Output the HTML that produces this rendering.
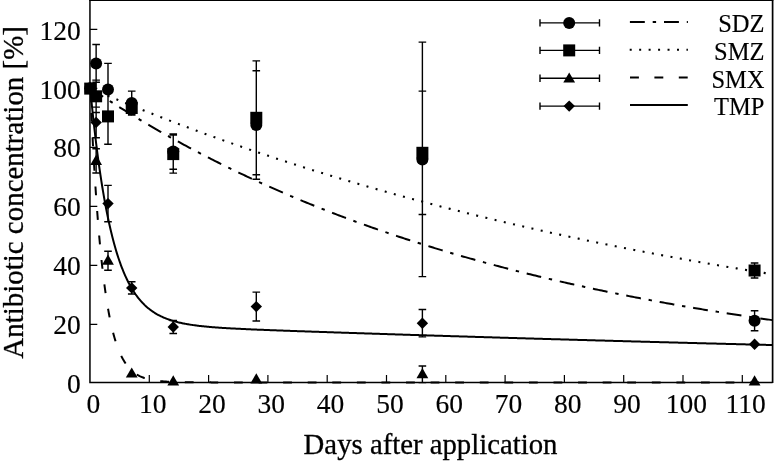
<!DOCTYPE html>
<html><head><meta charset="utf-8"><title>Antibiotic concentration</title>
<style>html,body{margin:0;padding:0;background:#fff}body{width:774px;height:462px;overflow:hidden}svg{display:block}text{font-family:"Liberation Serif","Times New Roman",serif;fill:#000;stroke:#000;stroke-width:0.15px}.ax{stroke-width:0.3px}</style>
</head><body>
<svg width="774" height="462" viewBox="0 0 774 462">
<rect width="774" height="462" fill="#fff"/>
<defs><clipPath id="pc"><rect x="90" y="0" width="682.5" height="384"/></clipPath></defs>
<g clip-path="url(#pc)" fill="none" stroke="#000" stroke-width="2">
<path d="M90.2,88.23 L91.91,89.37 L93.61,90.5 L95.32,91.64 L97.02,92.76 L98.73,93.88 L100.43,95 L102.14,96.11 L103.84,97.22 L105.55,98.33 L107.25,99.43 L108.96,100.52 L110.67,101.62 L112.37,102.7 L114.08,103.79 L115.78,104.87 L117.49,105.94 L119.19,107.01 L120.9,108.08 L122.6,109.14 L124.31,110.2 L126.01,111.26 L127.72,112.31 L129.43,113.35 L131.13,114.39 L132.84,115.43 L134.54,116.47 L136.25,117.5 L137.95,118.52 L139.66,119.55 L141.36,120.56 L143.07,121.58 L144.77,122.59 L146.48,123.59 L148.19,124.6 L149.89,125.6 L151.6,126.59 L153.3,127.58 L155.01,128.57 L156.71,129.55 L158.42,130.53 L160.12,131.51 L161.83,132.48 L163.53,133.45 L165.24,134.41 L166.95,135.37 L168.65,136.33 L170.36,137.28 L172.06,138.23 L173.77,139.18 L175.47,140.12 L177.18,141.06 L178.88,141.99 L180.59,142.92 L182.29,143.85 L184,144.78 L185.71,145.7 L187.41,146.61 L189.12,147.53 L190.82,148.44 L192.53,149.34 L194.23,150.25 L195.94,151.15 L197.64,152.04 L199.35,152.93 L201.05,153.82 L202.76,154.71 L204.47,155.59 L206.17,156.47 L207.88,157.34 L209.58,158.22 L211.29,159.08 L212.99,159.95 L214.7,160.81 L216.4,161.67 L218.11,162.52 L219.81,163.38 L221.52,164.22 L223.23,165.07 L224.93,165.91 L226.64,166.75 L228.34,167.59 L230.05,168.42 L231.75,169.25 L233.46,170.07 L235.16,170.89 L236.87,171.71 L238.57,172.53 L240.28,173.34 L241.99,174.15 L243.69,174.96 L245.4,175.76 L247.1,176.56 L248.81,177.36 L250.51,178.15 L252.22,178.95 L253.92,179.73 L255.63,180.52 L257.33,181.3 L259.04,182.08 L260.75,182.86 L262.45,183.63 L264.16,184.4 L265.86,185.17 L267.57,185.93 L269.27,186.69 L270.98,187.45 L272.68,188.2 L274.39,188.96 L276.09,189.71 L277.8,190.45 L279.5,191.2 L281.21,191.94 L282.92,192.67 L284.62,193.41 L286.33,194.14 L288.03,194.87 L289.74,195.6 L291.44,196.32 L293.15,197.04 L294.85,197.76 L296.56,198.48 L298.26,199.19 L299.97,199.9 L301.68,200.6 L303.38,201.31 L305.09,202.01 L306.79,202.71 L308.5,203.41 L310.2,204.1 L311.91,204.79 L313.61,205.48 L315.32,206.16 L317.02,206.85 L318.73,207.53 L320.44,208.2 L322.14,208.88 L323.85,209.55 L325.55,210.22 L327.26,210.89 L328.96,211.55 L330.67,212.21 L332.37,212.87 L334.08,213.53 L335.78,214.18 L337.49,214.83 L339.2,215.48 L340.9,216.13 L342.61,216.77 L344.31,217.42 L346.02,218.05 L347.72,218.69 L349.43,219.33 L351.13,219.96 L352.84,220.59 L354.54,221.21 L356.25,221.84 L357.96,222.46 L359.66,223.08 L361.37,223.7 L363.07,224.31 L364.78,224.92 L366.48,225.53 L368.19,226.14 L369.89,226.75 L371.6,227.35 L373.3,227.95 L375.01,228.55 L376.72,229.14 L378.42,229.74 L380.13,230.33 L381.83,230.92 L383.54,231.51 L385.24,232.09 L386.95,232.67 L388.65,233.25 L390.36,233.83 L392.06,234.41 L393.77,234.98 L395.48,235.55 L397.18,236.12 L398.89,236.69 L400.59,237.25 L402.3,237.81 L404,238.37 L405.71,238.93 L407.41,239.49 L409.12,240.04 L410.82,240.59 L412.53,241.14 L414.24,241.69 L415.94,242.23 L417.65,242.78 L419.35,243.32 L421.06,243.85 L422.76,244.39 L424.47,244.93 L426.17,245.46 L427.88,245.99 L429.58,246.52 L431.29,247.04 L433,247.57 L434.7,248.09 L436.41,248.61 L438.11,249.13 L439.82,249.65 L441.52,250.16 L443.23,250.67 L444.93,251.18 L446.64,251.69 L448.34,252.2 L450.05,252.7 L451.76,253.2 L453.46,253.7 L455.17,254.2 L456.87,254.7 L458.58,255.19 L460.28,255.69 L461.99,256.18 L463.69,256.67 L465.4,257.15 L467.1,257.64 L468.81,258.12 L470.52,258.6 L472.22,259.08 L473.93,259.56 L475.63,260.04 L477.34,260.51 L479.04,260.98 L480.75,261.45 L482.45,261.92 L484.16,262.39 L485.86,262.85 L487.57,263.32 L489.28,263.78 L490.98,264.24 L492.69,264.69 L494.39,265.15 L496.1,265.6 L497.8,266.06 L499.51,266.51 L501.21,266.96 L502.92,267.4 L504.62,267.85 L506.33,268.29 L508.04,268.74 L509.74,269.18 L511.45,269.61 L513.15,270.05 L514.86,270.49 L516.56,270.92 L518.27,271.35 L519.97,271.78 L521.68,272.21 L523.38,272.64 L525.09,273.06 L526.8,273.49 L528.5,273.91 L530.21,274.33 L531.91,274.75 L533.62,275.16 L535.32,275.58 L537.03,275.99 L538.73,276.41 L540.44,276.82 L542.14,277.22 L543.85,277.63 L545.56,278.04 L547.26,278.44 L548.97,278.85 L550.67,279.25 L552.38,279.65 L554.08,280.04 L555.79,280.44 L557.49,280.84 L559.2,281.23 L560.9,281.62 L562.61,282.01 L564.32,282.4 L566.02,282.79 L567.73,283.17 L569.43,283.56 L571.14,283.94 L572.84,284.32 L574.55,284.7 L576.25,285.08 L577.96,285.46 L579.66,285.83 L581.37,286.21 L583.08,286.58 L584.78,286.95 L586.49,287.32 L588.19,287.69 L589.9,288.06 L591.6,288.42 L593.31,288.79 L595.01,289.15 L596.72,289.51 L598.42,289.87 L600.13,290.23 L601.84,290.58 L603.54,290.94 L605.25,291.29 L606.95,291.65 L608.66,292 L610.36,292.35 L612.07,292.7 L613.77,293.05 L615.48,293.39 L617.18,293.74 L618.89,294.08 L620.59,294.42 L622.3,294.76 L624.01,295.1 L625.71,295.44 L627.42,295.78 L629.12,296.11 L630.83,296.45 L632.53,296.78 L634.24,297.11 L635.94,297.44 L637.65,297.77 L639.35,298.1 L641.06,298.43 L642.77,298.75 L644.47,299.07 L646.18,299.4 L647.88,299.72 L649.59,300.04 L651.29,300.36 L653,300.68 L654.7,300.99 L656.41,301.31 L658.11,301.62 L659.82,301.94 L661.53,302.25 L663.23,302.56 L664.94,302.87 L666.64,303.17 L668.35,303.48 L670.05,303.79 L671.76,304.09 L673.46,304.4 L675.17,304.7 L676.87,305 L678.58,305.3 L680.29,305.6 L681.99,305.89 L683.7,306.19 L685.4,306.49 L687.11,306.78 L688.81,307.07 L690.52,307.36 L692.22,307.66 L693.93,307.94 L695.63,308.23 L697.34,308.52 L699.05,308.81 L700.75,309.09 L702.46,309.38 L704.16,309.66 L705.87,309.94 L707.57,310.22 L709.28,310.5 L710.98,310.78 L712.69,311.06 L714.39,311.33 L716.1,311.61 L717.81,311.88 L719.51,312.16 L721.22,312.43 L722.92,312.7 L724.63,312.97 L726.33,313.24 L728.04,313.51 L729.74,313.77 L731.45,314.04 L733.15,314.3 L734.86,314.57 L736.57,314.83 L738.27,315.09 L739.98,315.35 L741.68,315.61 L743.39,315.87 L745.09,316.13 L746.8,316.39 L748.5,316.64 L750.21,316.9 L751.91,317.15 L753.62,317.4 L755.33,317.65 L757.03,317.9 L758.74,318.15 L760.44,318.4 L762.15,318.65 L763.85,318.9 L765.56,319.14 L767.26,319.39 L768.97,319.63 L770.67,319.88 L772.38,320.12" stroke-dasharray="14.9 7.85 3.4 7.85" stroke-dashoffset="-0.6"/>
<path d="M90.2,88.23 L91.91,88.96 L93.61,89.7 L95.32,90.43 L97.02,91.16 L98.73,91.89 L100.43,92.61 L102.14,93.34 L103.84,94.06 L105.55,94.78 L107.25,95.5 L108.96,96.21 L110.67,96.93 L112.37,97.64 L114.08,98.35 L115.78,99.06 L117.49,99.77 L119.19,100.48 L120.9,101.18 L122.6,101.88 L124.31,102.58 L126.01,103.28 L127.72,103.98 L129.43,104.68 L131.13,105.37 L132.84,106.06 L134.54,106.75 L136.25,107.44 L137.95,108.13 L139.66,108.81 L141.36,109.5 L143.07,110.18 L144.77,110.86 L146.48,111.54 L148.19,112.21 L149.89,112.89 L151.6,113.56 L153.3,114.23 L155.01,114.9 L156.71,115.57 L158.42,116.24 L160.12,116.9 L161.83,117.57 L163.53,118.23 L165.24,118.89 L166.95,119.55 L168.65,120.2 L170.36,120.86 L172.06,121.51 L173.77,122.16 L175.47,122.81 L177.18,123.46 L178.88,124.11 L180.59,124.75 L182.29,125.4 L184,126.04 L185.71,126.68 L187.41,127.32 L189.12,127.95 L190.82,128.59 L192.53,129.22 L194.23,129.86 L195.94,130.49 L197.64,131.12 L199.35,131.74 L201.05,132.37 L202.76,133 L204.47,133.62 L206.17,134.24 L207.88,134.86 L209.58,135.48 L211.29,136.1 L212.99,136.71 L214.7,137.32 L216.4,137.94 L218.11,138.55 L219.81,139.16 L221.52,139.76 L223.23,140.37 L224.93,140.97 L226.64,141.58 L228.34,142.18 L230.05,142.78 L231.75,143.38 L233.46,143.98 L235.16,144.57 L236.87,145.17 L238.57,145.76 L240.28,146.35 L241.99,146.94 L243.69,147.53 L245.4,148.11 L247.1,148.7 L248.81,149.28 L250.51,149.87 L252.22,150.45 L253.92,151.03 L255.63,151.6 L257.33,152.18 L259.04,152.76 L260.75,153.33 L262.45,153.9 L264.16,154.47 L265.86,155.04 L267.57,155.61 L269.27,156.18 L270.98,156.74 L272.68,157.3 L274.39,157.87 L276.09,158.43 L277.8,158.99 L279.5,159.55 L281.21,160.1 L282.92,160.66 L284.62,161.21 L286.33,161.76 L288.03,162.32 L289.74,162.87 L291.44,163.41 L293.15,163.96 L294.85,164.51 L296.56,165.05 L298.26,165.59 L299.97,166.14 L301.68,166.68 L303.38,167.21 L305.09,167.75 L306.79,168.29 L308.5,168.82 L310.2,169.36 L311.91,169.89 L313.61,170.42 L315.32,170.95 L317.02,171.48 L318.73,172 L320.44,172.53 L322.14,173.05 L323.85,173.58 L325.55,174.1 L327.26,174.62 L328.96,175.14 L330.67,175.66 L332.37,176.17 L334.08,176.69 L335.78,177.2 L337.49,177.71 L339.2,178.23 L340.9,178.74 L342.61,179.24 L344.31,179.75 L346.02,180.26 L347.72,180.76 L349.43,181.27 L351.13,181.77 L352.84,182.27 L354.54,182.77 L356.25,183.27 L357.96,183.77 L359.66,184.26 L361.37,184.76 L363.07,185.25 L364.78,185.74 L366.48,186.24 L368.19,186.73 L369.89,187.21 L371.6,187.7 L373.3,188.19 L375.01,188.67 L376.72,189.16 L378.42,189.64 L380.13,190.12 L381.83,190.6 L383.54,191.08 L385.24,191.56 L386.95,192.04 L388.65,192.51 L390.36,192.99 L392.06,193.46 L393.77,193.93 L395.48,194.4 L397.18,194.87 L398.89,195.34 L400.59,195.81 L402.3,196.27 L404,196.74 L405.71,197.2 L407.41,197.66 L409.12,198.13 L410.82,198.59 L412.53,199.05 L414.24,199.5 L415.94,199.96 L417.65,200.42 L419.35,200.87 L421.06,201.32 L422.76,201.78 L424.47,202.23 L426.17,202.68 L427.88,203.13 L429.58,203.57 L431.29,204.02 L433,204.47 L434.7,204.91 L436.41,205.35 L438.11,205.8 L439.82,206.24 L441.52,206.68 L443.23,207.12 L444.93,207.56 L446.64,207.99 L448.34,208.43 L450.05,208.86 L451.76,209.3 L453.46,209.73 L455.17,210.16 L456.87,210.59 L458.58,211.02 L460.28,211.45 L461.99,211.87 L463.69,212.3 L465.4,212.73 L467.1,213.15 L468.81,213.57 L470.52,213.99 L472.22,214.41 L473.93,214.83 L475.63,215.25 L477.34,215.67 L479.04,216.09 L480.75,216.5 L482.45,216.92 L484.16,217.33 L485.86,217.74 L487.57,218.15 L489.28,218.56 L490.98,218.97 L492.69,219.38 L494.39,219.79 L496.1,220.2 L497.8,220.6 L499.51,221 L501.21,221.41 L502.92,221.81 L504.62,222.21 L506.33,222.61 L508.04,223.01 L509.74,223.41 L511.45,223.81 L513.15,224.2 L514.86,224.6 L516.56,224.99 L518.27,225.38 L519.97,225.78 L521.68,226.17 L523.38,226.56 L525.09,226.95 L526.8,227.34 L528.5,227.72 L530.21,228.11 L531.91,228.5 L533.62,228.88 L535.32,229.26 L537.03,229.65 L538.73,230.03 L540.44,230.41 L542.14,230.79 L543.85,231.17 L545.56,231.54 L547.26,231.92 L548.97,232.3 L550.67,232.67 L552.38,233.05 L554.08,233.42 L555.79,233.79 L557.49,234.16 L559.2,234.53 L560.9,234.9 L562.61,235.27 L564.32,235.64 L566.02,236 L567.73,236.37 L569.43,236.74 L571.14,237.1 L572.84,237.46 L574.55,237.82 L576.25,238.19 L577.96,238.55 L579.66,238.91 L581.37,239.26 L583.08,239.62 L584.78,239.98 L586.49,240.33 L588.19,240.69 L589.9,241.04 L591.6,241.4 L593.31,241.75 L595.01,242.1 L596.72,242.45 L598.42,242.8 L600.13,243.15 L601.84,243.5 L603.54,243.84 L605.25,244.19 L606.95,244.53 L608.66,244.88 L610.36,245.22 L612.07,245.57 L613.77,245.91 L615.48,246.25 L617.18,246.59 L618.89,246.93 L620.59,247.27 L622.3,247.6 L624.01,247.94 L625.71,248.28 L627.42,248.61 L629.12,248.95 L630.83,249.28 L632.53,249.61 L634.24,249.94 L635.94,250.27 L637.65,250.6 L639.35,250.93 L641.06,251.26 L642.77,251.59 L644.47,251.92 L646.18,252.24 L647.88,252.57 L649.59,252.89 L651.29,253.21 L653,253.54 L654.7,253.86 L656.41,254.18 L658.11,254.5 L659.82,254.82 L661.53,255.14 L663.23,255.46 L664.94,255.77 L666.64,256.09 L668.35,256.41 L670.05,256.72 L671.76,257.03 L673.46,257.35 L675.17,257.66 L676.87,257.97 L678.58,258.28 L680.29,258.59 L681.99,258.9 L683.7,259.21 L685.4,259.52 L687.11,259.83 L688.81,260.13 L690.52,260.44 L692.22,260.74 L693.93,261.05 L695.63,261.35 L697.34,261.65 L699.05,261.95 L700.75,262.25 L702.46,262.55 L704.16,262.85 L705.87,263.15 L707.57,263.45 L709.28,263.75 L710.98,264.04 L712.69,264.34 L714.39,264.63 L716.1,264.93 L717.81,265.22 L719.51,265.51 L721.22,265.81 L722.92,266.1 L724.63,266.39 L726.33,266.68 L728.04,266.97 L729.74,267.26 L731.45,267.54 L733.15,267.83 L734.86,268.12 L736.57,268.4 L738.27,268.69 L739.98,268.97 L741.68,269.25 L743.39,269.54 L745.09,269.82 L746.8,270.1 L748.5,270.38 L750.21,270.66 L751.91,270.94 L753.62,271.22 L755.33,271.5 L757.03,271.77 L758.74,272.05 L760.44,272.32 L762.15,272.6 L763.85,272.87 L765.56,273.15 L767.26,273.42 L768.97,273.69 L770.67,273.96 L772.38,274.24" stroke-width="2.1" stroke-dasharray="2 7.46" stroke-dashoffset="-0.1"/>
<path d="M90.2,88.23 L90.77,100.92 L91.34,113.06 L91.91,124.67 L92.47,135.79 L93.04,146.42 L93.61,156.6 L94.18,166.34 L94.75,175.65 L95.32,184.57 L95.88,193.1 L96.45,201.27 L97.02,209.08 L97.59,216.55 L98.16,223.7 L98.73,230.55 L99.3,237.1 L99.86,243.36 L100.43,249.36 L101,255.1 L101.57,260.59 L102.14,265.84 L102.71,270.87 L103.28,275.68 L103.84,280.28 L104.41,284.68 L104.98,288.9 L105.55,292.93 L106.12,296.79 L106.69,300.48 L107.25,304.01 L107.82,307.39 L108.39,310.63 L108.96,313.72 L109.53,316.69 L110.1,319.52 L110.67,322.23 L111.23,324.83 L111.8,327.31 L112.37,329.68 L112.94,331.96 L113.51,334.13 L114.08,336.21 L114.64,338.21 L115.21,340.11 L115.78,341.94 L116.35,343.68 L116.92,345.35 L117.49,346.95 L118.06,348.48 L118.62,349.94 L119.19,351.34 L119.76,352.68 L120.33,353.96 L120.9,355.19 L121.47,356.36 L122.04,357.48 L122.6,358.56 L123.17,359.59 L123.74,360.57 L124.31,361.51 L124.88,362.41 L125.45,363.28 L126.01,364.1 L126.58,364.89 L127.15,365.64 L127.72,366.37 L128.29,367.06 L128.86,367.72 L129.43,368.35 L129.99,368.96 L130.56,369.54 L131.13,370.09 L131.7,370.62 L132.27,371.13 L132.84,371.62 L133.4,372.08 L133.97,372.53 L134.54,372.95 L135.11,373.36 L135.68,373.75 L136.25,374.12 L136.82,374.48 L137.38,374.82 L137.95,375.15 L138.52,375.46 L139.09,375.76 L139.66,376.05 L140.23,376.32 L140.8,376.58 L141.36,376.83 L141.93,377.07 L142.5,377.3 L143.07,377.52 L143.64,377.73 L144.21,377.94 L144.77,378.13 L145.34,378.31 L145.91,378.49 L146.48,378.66 L147.05,378.82 L147.62,378.97 L148.19,379.12 L148.75,379.26 L149.32,379.4 L149.89,379.53 L150.46,379.65 L151.03,379.77 L151.6,379.88 L152.16,379.99 L152.73,380.1 L153.3,380.19 L153.87,380.29 L154.44,380.38 L155.01,380.47 L155.58,380.55 L156.14,380.63 L156.71,380.71 L157.28,380.78 L157.85,380.85 L158.42,380.92 L158.99,380.98 L159.55,381.04 L160.12,381.1 L160.69,381.16 L161.26,381.21 L161.83,381.26 L162.4,381.31 L162.97,381.36 L163.53,381.4 L164.1,381.45 L164.67,381.49 L165.24,381.53 L165.81,381.56 L166.38,381.6 L166.95,381.63 L167.51,381.67 L168.08,381.7 L168.65,381.73 L169.22,381.76 L169.79,381.79 L170.36,381.81 L170.92,381.84 L171.49,381.86 L172.06,381.89 L172.63,381.91 L173.2,381.93 L173.77,381.95 L174.34,381.97 L174.9,381.99 L175.47,382 L176.04,382.02 L176.61,382.04 L177.18,382.05 L177.75,382.07 L178.31,382.08 L178.88,382.1 L179.45,382.11 L180.02,382.12 L180.59,382.13 L181.16,382.15 L181.73,382.16 L182.29,382.17 L182.86,382.18 L183.43,382.19 L184,382.2 L184.57,382.2 L185.14,382.21 L185.71,382.22 L186.27,382.23 L186.84,382.24 L187.41,382.24 L187.98,382.25 L188.55,382.26 L189.12,382.26 L189.68,382.27 L190.25,382.27 L190.82,382.28 L191.39,382.28 L191.96,382.29 L192.53,382.29 L193.1,382.3 L193.66,382.3 L194.23,382.31 L194.8,382.31 L195.37,382.32 L195.94,382.32 L196.51,382.32 L197.07,382.33 L197.64,382.33 L198.21,382.33 L198.78,382.34 L199.35,382.34 L199.92,382.34 L200.49,382.34 L201.05,382.35 L201.62,382.35 L202.19,382.35 L202.76,382.35 L203.33,382.35 L203.9,382.36 L204.47,382.36 L205.03,382.36 L205.6,382.36 L206.17,382.36 L206.74,382.37 L207.31,382.37 L207.88,382.37 L208.44,382.37 L209.01,382.37 L209.58,382.37 L210.15,382.37 L210.72,382.37 L211.29,382.38 L211.86,382.38 L212.42,382.38 L212.99,382.38 L213.56,382.38 L214.13,382.38 L214.7,382.38 L215.27,382.38 L215.83,382.38 L216.4,382.38 L216.97,382.38 L217.54,382.38 L218.11,382.39 L218.68,382.39 L219.25,382.39 L219.81,382.39 L220.38,382.39 L220.95,382.39 L221.52,382.39 L222.09,382.39 L222.66,382.39 L223.23,382.39 L223.79,382.39 L224.36,382.39 L224.93,382.39 L225.5,382.39 L226.07,382.39 L226.64,382.39 L227.2,382.39 L227.77,382.39 L228.34,382.39 L228.91,382.39 L229.48,382.39 L230.05,382.39 L230.62,382.39 L231.18,382.39 L231.75,382.39 L232.32,382.4 L232.89,382.4 L233.46,382.4 L234.03,382.4 L234.59,382.4 L235.16,382.4 L235.73,382.4 L236.3,382.4 L236.87,382.4 L237.44,382.4 L238.01,382.4 L238.57,382.4 L239.14,382.4 L239.71,382.4 L240.28,382.4 L240.85,382.4 L241.42,382.4 L241.99,382.4 L242.55,382.4 L243.12,382.4 L243.69,382.4 L244.26,382.4 L244.83,382.4 L245.4,382.4 L245.96,382.4 L246.53,382.4 L247.1,382.4 L247.67,382.4 L248.24,382.4 L248.81,382.4 L249.38,382.4 L249.94,382.4 L250.51,382.4 L251.08,382.4 L251.65,382.4 L252.22,382.4 L252.79,382.4 L253.35,382.4 L253.92,382.4 L254.49,382.4 L255.06,382.4 L255.63,382.4 L256.2,382.4 L256.77,382.4 L257.33,382.4 L257.9,382.4 L258.47,382.4 L259.04,382.4 L259.61,382.4 L260.18,382.4 L260.75,382.4 L261.31,382.4 L261.88,382.4 L262.45,382.4 L263.02,382.4 L263.59,382.4 L264.16,382.4 L264.72,382.4 L265.29,382.4 L265.86,382.4 L266.43,382.4 L267,382.4 L267.57,382.4 L268.14,382.4 L268.7,382.4 L269.27,382.4 L269.84,382.4 L270.41,382.4 L270.98,382.4 L271.55,382.4 L272.11,382.4 L272.68,382.4 L273.25,382.4 L273.82,382.4 L274.39,382.4 L274.96,382.4 L275.53,382.4 L276.09,382.4 L276.66,382.4 L277.23,382.4 L277.8,382.4 L278.37,382.4 L278.94,382.4 L279.5,382.4 L280.07,382.4 L280.64,382.4 L281.21,382.4 L281.78,382.4 L282.35,382.4 L282.92,382.4 L283.48,382.4 L284.05,382.4 L284.62,382.4 L285.19,382.4 L285.76,382.4 L286.33,382.4 L286.9,382.4 L287.46,382.4 L288.03,382.4 L288.6,382.4 L289.17,382.4 L289.74,382.4 L290.31,382.4 L290.87,382.4 L291.44,382.4 L292.01,382.4 L292.58,382.4 L293.15,382.4 L293.72,382.4 L294.29,382.4 L294.85,382.4 L295.42,382.4 L295.99,382.4 L296.56,382.4 L297.13,382.4 L297.7,382.4 L298.26,382.4 L298.83,382.4 L299.4,382.4 L299.97,382.4 L300.54,382.4 L301.11,382.4 L301.68,382.4 L302.24,382.4 L302.81,382.4 L303.38,382.4 L303.95,382.4 L304.52,382.4 L305.09,382.4 L305.66,382.4 L306.22,382.4 L306.79,382.4 L307.36,382.4 L307.93,382.4 L308.5,382.4 L309.07,382.4 L309.63,382.4 L310.2,382.4 L310.77,382.4 L311.34,382.4 L311.91,382.4 L312.48,382.4 L313.05,382.4 L313.61,382.4 L314.18,382.4 L314.75,382.4 L315.32,382.4 L315.89,382.4 L316.46,382.4 L317.02,382.4 L317.59,382.4 L318.16,382.4 L318.73,382.4 L319.3,382.4 L319.87,382.4 L320.44,382.4 L321,382.4 L321.57,382.4 L322.14,382.4 L322.71,382.4 L323.28,382.4 L323.85,382.4 L324.42,382.4 L324.98,382.4 L325.55,382.4 L326.12,382.4 L326.69,382.4 L327.26,382.4 L327.83,382.4 L328.39,382.4 L328.96,382.4 L329.53,382.4 L330.1,382.4 L330.67,382.4 L331.24,382.4 L331.81,382.4 L332.37,382.4 L332.94,382.4 L333.51,382.4 L334.08,382.4 L334.65,382.4 L335.22,382.4 L335.78,382.4 L336.35,382.4 L336.92,382.4 L337.49,382.4 L338.06,382.4 L338.63,382.4 L339.2,382.4 L339.76,382.4 L340.33,382.4 L340.9,382.4 L341.47,382.4 L342.04,382.4 L342.61,382.4 L343.18,382.4 L343.74,382.4 L344.31,382.4 L344.88,382.4 L345.45,382.4 L346.02,382.4 L346.59,382.4 L347.15,382.4 L347.72,382.4 L348.29,382.4 L348.86,382.4 L349.43,382.4 L350,382.4 L350.57,382.4 L351.13,382.4 L351.7,382.4 L352.27,382.4 L352.84,382.4 L353.41,382.4 L353.98,382.4 L354.54,382.4 L355.11,382.4 L355.68,382.4 L356.25,382.4 L356.82,382.4 L357.39,382.4 L357.96,382.4 L358.52,382.4 L359.09,382.4 L359.66,382.4 L360.23,382.4 L360.8,382.4 L361.37,382.4 L361.94,382.4 L362.5,382.4 L363.07,382.4 L363.64,382.4 L364.21,382.4 L364.78,382.4 L365.35,382.4 L365.91,382.4 L366.48,382.4 L367.05,382.4 L367.62,382.4 L368.19,382.4 L368.76,382.4 L369.33,382.4 L369.89,382.4 L370.46,382.4 L371.03,382.4 L371.6,382.4 L372.17,382.4 L372.74,382.4 L373.3,382.4 L373.87,382.4 L374.44,382.4 L375.01,382.4 L375.58,382.4 L376.15,382.4 L376.72,382.4 L377.28,382.4 L377.85,382.4 L378.42,382.4 L378.99,382.4 L379.56,382.4 L380.13,382.4 L380.69,382.4 L381.26,382.4 L381.83,382.4 L382.4,382.4 L382.97,382.4 L383.54,382.4 L384.11,382.4 L384.67,382.4 L385.24,382.4 L385.81,382.4 L386.38,382.4 L386.95,382.4 L387.52,382.4 L388.09,382.4 L388.65,382.4 L389.22,382.4 L389.79,382.4 L390.36,382.4 L390.93,382.4 L391.5,382.4 L392.06,382.4 L392.63,382.4 L393.2,382.4 L393.77,382.4 L394.34,382.4 L394.91,382.4 L395.48,382.4 L396.04,382.4 L396.61,382.4 L397.18,382.4 L397.75,382.4 L398.32,382.4 L398.89,382.4 L399.45,382.4 L400.02,382.4 L400.59,382.4 L401.16,382.4 L401.73,382.4 L402.3,382.4 L402.87,382.4 L403.43,382.4 L404,382.4 L404.57,382.4 L405.14,382.4 L405.71,382.4 L406.28,382.4 L406.85,382.4 L407.41,382.4 L407.98,382.4 L408.55,382.4 L409.12,382.4 L409.69,382.4 L410.26,382.4 L410.82,382.4 L411.39,382.4 L411.96,382.4 L412.53,382.4 L413.1,382.4 L413.67,382.4 L414.24,382.4 L414.8,382.4 L415.37,382.4 L415.94,382.4 L416.51,382.4 L417.08,382.4 L417.65,382.4 L418.21,382.4 L418.78,382.4 L419.35,382.4 L419.92,382.4 L420.49,382.4 L421.06,382.4 L421.63,382.4 L422.19,382.4 L422.76,382.4 L423.33,382.4 L423.9,382.4 L424.47,382.4 L425.04,382.4 L425.61,382.4 L426.17,382.4 L426.74,382.4 L427.31,382.4 L427.88,382.4 L428.45,382.4 L429.02,382.4 L429.58,382.4 L430.15,382.4 L430.72,382.4 L431.29,382.4 L431.86,382.4 L432.43,382.4 L433,382.4 L433.56,382.4 L434.13,382.4 L434.7,382.4 L435.27,382.4 L435.84,382.4 L436.41,382.4 L436.97,382.4 L437.54,382.4 L438.11,382.4 L438.68,382.4 L439.25,382.4 L439.82,382.4 L440.39,382.4 L440.95,382.4 L441.52,382.4 L442.09,382.4 L442.66,382.4 L443.23,382.4 L443.8,382.4 L444.37,382.4 L444.93,382.4 L445.5,382.4 L446.07,382.4 L446.64,382.4 L447.21,382.4 L447.78,382.4 L448.34,382.4 L448.91,382.4 L449.48,382.4 L450.05,382.4 L450.62,382.4 L451.19,382.4 L451.76,382.4 L452.32,382.4 L452.89,382.4 L453.46,382.4 L454.03,382.4 L454.6,382.4 L455.17,382.4 L455.73,382.4 L456.3,382.4 L456.87,382.4 L457.44,382.4 L458.01,382.4 L458.58,382.4 L459.15,382.4 L459.71,382.4 L460.28,382.4 L460.85,382.4 L461.42,382.4 L461.99,382.4 L462.56,382.4 L463.13,382.4 L463.69,382.4 L464.26,382.4 L464.83,382.4 L465.4,382.4 L465.97,382.4 L466.54,382.4 L467.1,382.4 L467.67,382.4 L468.24,382.4 L468.81,382.4 L469.38,382.4 L469.95,382.4 L470.52,382.4 L471.08,382.4 L471.65,382.4 L472.22,382.4 L472.79,382.4 L473.36,382.4 L473.93,382.4 L474.49,382.4 L475.06,382.4 L475.63,382.4 L476.2,382.4 L476.77,382.4 L477.34,382.4 L477.91,382.4 L478.47,382.4 L479.04,382.4 L479.61,382.4 L480.18,382.4 L480.75,382.4 L481.32,382.4 L481.89,382.4 L482.45,382.4 L483.02,382.4 L483.59,382.4 L484.16,382.4 L484.73,382.4 L485.3,382.4 L485.86,382.4 L486.43,382.4 L487,382.4 L487.57,382.4 L488.14,382.4 L488.71,382.4 L489.28,382.4 L489.84,382.4 L490.41,382.4 L490.98,382.4 L491.55,382.4 L492.12,382.4 L492.69,382.4 L493.25,382.4 L493.82,382.4 L494.39,382.4 L494.96,382.4 L495.53,382.4 L496.1,382.4 L496.67,382.4 L497.23,382.4 L497.8,382.4 L498.37,382.4 L498.94,382.4 L499.51,382.4 L500.08,382.4 L500.64,382.4 L501.21,382.4 L501.78,382.4 L502.35,382.4 L502.92,382.4 L503.49,382.4 L504.06,382.4 L504.62,382.4 L505.19,382.4 L505.76,382.4 L506.33,382.4 L506.9,382.4 L507.47,382.4 L508.04,382.4 L508.6,382.4 L509.17,382.4 L509.74,382.4 L510.31,382.4 L510.88,382.4 L511.45,382.4 L512.01,382.4 L512.58,382.4 L513.15,382.4 L513.72,382.4 L514.29,382.4 L514.86,382.4 L515.43,382.4 L515.99,382.4 L516.56,382.4 L517.13,382.4 L517.7,382.4 L518.27,382.4 L518.84,382.4 L519.4,382.4 L519.97,382.4 L520.54,382.4 L521.11,382.4 L521.68,382.4 L522.25,382.4 L522.82,382.4 L523.38,382.4 L523.95,382.4 L524.52,382.4 L525.09,382.4 L525.66,382.4 L526.23,382.4 L526.8,382.4 L527.36,382.4 L527.93,382.4 L528.5,382.4 L529.07,382.4 L529.64,382.4 L530.21,382.4 L530.77,382.4 L531.34,382.4 L531.91,382.4 L532.48,382.4 L533.05,382.4 L533.62,382.4 L534.19,382.4 L534.75,382.4 L535.32,382.4 L535.89,382.4 L536.46,382.4 L537.03,382.4 L537.6,382.4 L538.16,382.4 L538.73,382.4 L539.3,382.4 L539.87,382.4 L540.44,382.4 L541.01,382.4 L541.58,382.4 L542.14,382.4 L542.71,382.4 L543.28,382.4 L543.85,382.4 L544.42,382.4 L544.99,382.4 L545.56,382.4 L546.12,382.4 L546.69,382.4 L547.26,382.4 L547.83,382.4 L548.4,382.4 L548.97,382.4 L549.53,382.4 L550.1,382.4 L550.67,382.4 L551.24,382.4 L551.81,382.4 L552.38,382.4 L552.95,382.4 L553.51,382.4 L554.08,382.4 L554.65,382.4 L555.22,382.4 L555.79,382.4 L556.36,382.4 L556.92,382.4 L557.49,382.4 L558.06,382.4 L558.63,382.4 L559.2,382.4 L559.77,382.4 L560.34,382.4 L560.9,382.4 L561.47,382.4 L562.04,382.4 L562.61,382.4 L563.18,382.4 L563.75,382.4 L564.32,382.4 L564.88,382.4 L565.45,382.4 L566.02,382.4 L566.59,382.4 L567.16,382.4 L567.73,382.4 L568.29,382.4 L568.86,382.4 L569.43,382.4 L570,382.4 L570.57,382.4 L571.14,382.4 L571.71,382.4 L572.27,382.4 L572.84,382.4 L573.41,382.4 L573.98,382.4 L574.55,382.4 L575.12,382.4 L575.68,382.4 L576.25,382.4 L576.82,382.4 L577.39,382.4 L577.96,382.4 L578.53,382.4 L579.1,382.4 L579.66,382.4 L580.23,382.4 L580.8,382.4 L581.37,382.4 L581.94,382.4 L582.51,382.4 L583.08,382.4 L583.64,382.4 L584.21,382.4 L584.78,382.4 L585.35,382.4 L585.92,382.4 L586.49,382.4 L587.05,382.4 L587.62,382.4 L588.19,382.4 L588.76,382.4 L589.33,382.4 L589.9,382.4 L590.47,382.4 L591.03,382.4 L591.6,382.4 L592.17,382.4 L592.74,382.4 L593.31,382.4 L593.88,382.4 L594.44,382.4 L595.01,382.4 L595.58,382.4 L596.15,382.4 L596.72,382.4 L597.29,382.4 L597.86,382.4 L598.42,382.4 L598.99,382.4 L599.56,382.4 L600.13,382.4 L600.7,382.4 L601.27,382.4 L601.84,382.4 L602.4,382.4 L602.97,382.4 L603.54,382.4 L604.11,382.4 L604.68,382.4 L605.25,382.4 L605.81,382.4 L606.38,382.4 L606.95,382.4 L607.52,382.4 L608.09,382.4 L608.66,382.4 L609.23,382.4 L609.79,382.4 L610.36,382.4 L610.93,382.4 L611.5,382.4 L612.07,382.4 L612.64,382.4 L613.2,382.4 L613.77,382.4 L614.34,382.4 L614.91,382.4 L615.48,382.4 L616.05,382.4 L616.62,382.4 L617.18,382.4 L617.75,382.4 L618.32,382.4 L618.89,382.4 L619.46,382.4 L620.03,382.4 L620.59,382.4 L621.16,382.4 L621.73,382.4 L622.3,382.4 L622.87,382.4 L623.44,382.4 L624.01,382.4 L624.57,382.4 L625.14,382.4 L625.71,382.4 L626.28,382.4 L626.85,382.4 L627.42,382.4 L627.99,382.4 L628.55,382.4 L629.12,382.4 L629.69,382.4 L630.26,382.4 L630.83,382.4 L631.4,382.4 L631.96,382.4 L632.53,382.4 L633.1,382.4 L633.67,382.4 L634.24,382.4 L634.81,382.4 L635.38,382.4 L635.94,382.4 L636.51,382.4 L637.08,382.4 L637.65,382.4 L638.22,382.4 L638.79,382.4 L639.35,382.4 L639.92,382.4 L640.49,382.4 L641.06,382.4 L641.63,382.4 L642.2,382.4 L642.77,382.4 L643.33,382.4 L643.9,382.4 L644.47,382.4 L645.04,382.4 L645.61,382.4 L646.18,382.4 L646.75,382.4 L647.31,382.4 L647.88,382.4 L648.45,382.4 L649.02,382.4 L649.59,382.4 L650.16,382.4 L650.72,382.4 L651.29,382.4 L651.86,382.4 L652.43,382.4 L653,382.4 L653.57,382.4 L654.14,382.4 L654.7,382.4 L655.27,382.4 L655.84,382.4 L656.41,382.4 L656.98,382.4 L657.55,382.4 L658.11,382.4 L658.68,382.4 L659.25,382.4 L659.82,382.4 L660.39,382.4 L660.96,382.4 L661.53,382.4 L662.09,382.4 L662.66,382.4 L663.23,382.4 L663.8,382.4 L664.37,382.4 L664.94,382.4 L665.51,382.4 L666.07,382.4 L666.64,382.4 L667.21,382.4 L667.78,382.4 L668.35,382.4 L668.92,382.4 L669.48,382.4 L670.05,382.4 L670.62,382.4 L671.19,382.4 L671.76,382.4 L672.33,382.4 L672.9,382.4 L673.46,382.4 L674.03,382.4 L674.6,382.4 L675.17,382.4 L675.74,382.4 L676.31,382.4 L676.87,382.4 L677.44,382.4 L678.01,382.4 L678.58,382.4 L679.15,382.4 L679.72,382.4 L680.29,382.4 L680.85,382.4 L681.42,382.4 L681.99,382.4 L682.56,382.4 L683.13,382.4 L683.7,382.4 L684.27,382.4 L684.83,382.4 L685.4,382.4 L685.97,382.4 L686.54,382.4 L687.11,382.4 L687.68,382.4 L688.24,382.4 L688.81,382.4 L689.38,382.4 L689.95,382.4 L690.52,382.4 L691.09,382.4 L691.66,382.4 L692.22,382.4 L692.79,382.4 L693.36,382.4 L693.93,382.4 L694.5,382.4 L695.07,382.4 L695.63,382.4 L696.2,382.4 L696.77,382.4 L697.34,382.4 L697.91,382.4 L698.48,382.4 L699.05,382.4 L699.61,382.4 L700.18,382.4 L700.75,382.4 L701.32,382.4 L701.89,382.4 L702.46,382.4 L703.03,382.4 L703.59,382.4 L704.16,382.4 L704.73,382.4 L705.3,382.4 L705.87,382.4 L706.44,382.4 L707,382.4 L707.57,382.4 L708.14,382.4 L708.71,382.4 L709.28,382.4 L709.85,382.4 L710.42,382.4 L710.98,382.4 L711.55,382.4 L712.12,382.4 L712.69,382.4 L713.26,382.4 L713.83,382.4 L714.39,382.4 L714.96,382.4 L715.53,382.4 L716.1,382.4 L716.67,382.4 L717.24,382.4 L717.81,382.4 L718.37,382.4 L718.94,382.4 L719.51,382.4 L720.08,382.4 L720.65,382.4 L721.22,382.4 L721.78,382.4 L722.35,382.4 L722.92,382.4 L723.49,382.4 L724.06,382.4 L724.63,382.4 L725.2,382.4 L725.76,382.4 L726.33,382.4 L726.9,382.4 L727.47,382.4 L728.04,382.4 L728.61,382.4 L729.18,382.4 L729.74,382.4 L730.31,382.4 L730.88,382.4 L731.45,382.4 L732.02,382.4 L732.59,382.4 L733.15,382.4 L733.72,382.4 L734.29,382.4 L734.86,382.4 L735.43,382.4 L736,382.4 L736.57,382.4 L737.13,382.4 L737.7,382.4 L738.27,382.4 L738.84,382.4 L739.41,382.4 L739.98,382.4 L740.54,382.4 L741.11,382.4 L741.68,382.4 L742.25,382.4 L742.82,382.4 L743.39,382.4 L743.96,382.4 L744.52,382.4 L745.09,382.4 L745.66,382.4 L746.23,382.4 L746.8,382.4 L747.37,382.4 L747.94,382.4 L748.5,382.4 L749.07,382.4 L749.64,382.4 L750.21,382.4 L750.78,382.4 L751.35,382.4 L751.91,382.4 L752.48,382.4 L753.05,382.4 L753.62,382.4 L754.19,382.4 L754.76,382.4 L755.33,382.4 L755.89,382.4 L756.46,382.4 L757.03,382.4 L757.6,382.4 L758.17,382.4 L758.74,382.4 L759.3,382.4 L759.87,382.4 L760.44,382.4 L761.01,382.4 L761.58,382.4 L762.15,382.4 L762.72,382.4 L763.28,382.4 L763.85,382.4 L764.42,382.4 L764.99,382.4 L765.56,382.4 L766.13,382.4 L766.7,382.4 L767.26,382.4 L767.83,382.4 L768.4,382.4 L768.97,382.4 L769.54,382.4 L770.11,382.4 L770.67,382.4 L771.24,382.4 L771.81,382.4 L772.38,382.4" stroke-dasharray="8.8 15.78" stroke-dashoffset="-0.1"/>
<path d="M90.2,88.23 L91.05,97.06 L91.91,105.56 L92.76,113.74 L93.61,121.62 L94.46,129.21 L95.32,136.51 L96.17,143.55 L97.02,150.32 L97.87,156.84 L98.73,163.11 L99.58,169.16 L100.43,174.97 L101.29,180.58 L102.14,185.97 L102.99,191.16 L103.84,196.16 L104.7,200.98 L105.55,205.62 L106.4,210.08 L107.25,214.38 L108.11,218.52 L108.96,222.5 L109.81,226.34 L110.67,230.04 L111.52,233.59 L112.37,237.02 L113.22,240.32 L114.08,243.5 L114.93,246.56 L115.78,249.51 L116.63,252.34 L117.49,255.08 L118.34,257.71 L119.19,260.24 L120.05,262.69 L120.9,265.04 L121.75,267.3 L122.6,269.48 L123.46,271.59 L124.31,273.61 L125.16,275.56 L126.01,277.44 L126.87,279.24 L127.72,280.99 L128.57,282.67 L129.43,284.28 L130.28,285.84 L131.13,287.34 L131.98,288.79 L132.84,290.18 L133.69,291.52 L134.54,292.81 L135.39,294.06 L136.25,295.26 L137.1,296.42 L137.95,297.53 L138.81,298.61 L139.66,299.64 L140.51,300.64 L141.36,301.6 L142.22,302.53 L143.07,303.42 L143.92,304.28 L144.77,305.11 L145.63,305.91 L146.48,306.68 L147.33,307.43 L148.19,308.15 L149.04,308.84 L149.89,309.5 L150.74,310.15 L151.6,310.77 L152.45,311.37 L153.3,311.94 L154.15,312.5 L155.01,313.04 L155.86,313.56 L156.71,314.06 L157.57,314.54 L158.42,315.01 L159.27,315.46 L160.12,315.89 L160.98,316.31 L161.83,316.71 L162.68,317.1 L163.53,317.48 L164.39,317.84 L165.24,318.2 L166.09,318.54 L166.95,318.86 L167.8,319.18 L168.65,319.49 L169.5,319.78 L170.36,320.07 L171.21,320.35 L172.06,320.61 L172.91,320.87 L173.77,321.12 L174.62,321.36 L175.47,321.6 L176.33,321.82 L177.18,322.04 L178.03,322.26 L178.88,322.46 L179.74,322.66 L180.59,322.85 L181.44,323.04 L182.29,323.22 L183.15,323.4 L184,323.56 L184.85,323.73 L185.71,323.89 L186.56,324.04 L187.41,324.19 L188.26,324.34 L189.12,324.48 L189.97,324.62 L190.82,324.75 L191.67,324.88 L192.53,325.01 L193.38,325.13 L194.23,325.25 L195.09,325.36 L195.94,325.48 L196.79,325.58 L197.64,325.69 L198.5,325.79 L199.35,325.9 L200.2,325.99 L201.05,326.09 L201.91,326.18 L202.76,326.27 L203.61,326.36 L204.47,326.45 L205.32,326.53 L206.17,326.61 L207.02,326.7 L207.88,326.77 L208.73,326.85 L209.58,326.93 L210.43,327 L211.29,327.07 L212.14,327.14 L212.99,327.21 L213.85,327.28 L214.7,327.34 L215.55,327.41 L216.4,327.47 L217.26,327.53 L218.11,327.59 L218.96,327.65 L219.81,327.71 L220.67,327.77 L221.52,327.83 L222.37,327.88 L223.23,327.94 L224.08,327.99 L224.93,328.04 L225.78,328.09 L226.64,328.14 L227.49,328.2 L228.34,328.24 L229.19,328.29 L230.05,328.34 L230.9,328.39 L231.75,328.44 L232.61,328.48 L233.46,328.53 L234.31,328.57 L235.16,328.62 L236.02,328.66 L236.87,328.7 L237.72,328.75 L238.57,328.79 L239.43,328.83 L240.28,328.87 L241.13,328.91 L241.99,328.95 L242.84,328.99 L243.69,329.03 L244.54,329.07 L245.4,329.11 L246.25,329.15 L247.1,329.19 L247.95,329.23 L248.81,329.27 L249.66,329.3 L250.51,329.34 L251.37,329.38 L252.22,329.41 L253.07,329.45 L253.92,329.49 L254.78,329.52 L255.63,329.56 L256.48,329.59 L257.33,329.63 L258.19,329.66 L259.04,329.7 L259.89,329.73 L260.75,329.77 L261.6,329.8 L262.45,329.83 L263.3,329.87 L264.16,329.9 L265.01,329.94 L265.86,329.97 L266.71,330 L267.57,330.03 L268.42,330.07 L269.27,330.1 L270.12,330.13 L270.98,330.17 L271.83,330.2 L272.68,330.23 L273.54,330.26 L274.39,330.29 L275.24,330.33 L276.09,330.36 L276.95,330.39 L277.8,330.42 L278.65,330.45 L279.5,330.48 L280.36,330.52 L281.21,330.55 L282.06,330.58 L282.92,330.61 L283.77,330.64 L284.62,330.67 L285.47,330.7 L286.33,330.73 L287.18,330.76 L288.03,330.79 L288.88,330.82 L289.74,330.85 L290.59,330.88 L291.44,330.92 L292.3,330.95 L293.15,330.98 L294,331.01 L294.85,331.04 L295.71,331.07 L296.56,331.1 L297.41,331.13 L298.26,331.16 L299.12,331.19 L299.97,331.22 L300.82,331.25 L301.68,331.28 L302.53,331.31 L303.38,331.33 L304.23,331.36 L305.09,331.39 L305.94,331.42 L306.79,331.45 L307.64,331.48 L308.5,331.51 L309.35,331.54 L310.2,331.57 L311.06,331.6 L311.91,331.63 L312.76,331.66 L313.61,331.69 L314.47,331.72 L315.32,331.75 L316.17,331.78 L317.02,331.8 L317.88,331.83 L318.73,331.86 L319.58,331.89 L320.44,331.92 L321.29,331.95 L322.14,331.98 L322.99,332.01 L323.85,332.04 L324.7,332.06 L325.55,332.09 L326.4,332.12 L327.26,332.15 L328.11,332.18 L328.96,332.21 L329.82,332.24 L330.67,332.27 L331.52,332.29 L332.37,332.32 L333.23,332.35 L334.08,332.38 L334.93,332.41 L335.78,332.44 L336.64,332.47 L337.49,332.49 L338.34,332.52 L339.2,332.55 L340.05,332.58 L340.9,332.61 L341.75,332.64 L342.61,332.67 L343.46,332.69 L344.31,332.72 L345.16,332.75 L346.02,332.78 L346.87,332.81 L347.72,332.83 L348.58,332.86 L349.43,332.89 L350.28,332.92 L351.13,332.95 L351.99,332.98 L352.84,333 L353.69,333.03 L354.54,333.06 L355.4,333.09 L356.25,333.12 L357.1,333.14 L357.96,333.17 L358.81,333.2 L359.66,333.23 L360.51,333.26 L361.37,333.28 L362.22,333.31 L363.07,333.34 L363.92,333.37 L364.78,333.4 L365.63,333.42 L366.48,333.45 L367.34,333.48 L368.19,333.51 L369.04,333.53 L369.89,333.56 L370.75,333.59 L371.6,333.62 L372.45,333.65 L373.3,333.67 L374.16,333.7 L375.01,333.73 L375.86,333.76 L376.72,333.78 L377.57,333.81 L378.42,333.84 L379.27,333.87 L380.13,333.89 L380.98,333.92 L381.83,333.95 L382.68,333.98 L383.54,334 L384.39,334.03 L385.24,334.06 L386.1,334.09 L386.95,334.11 L387.8,334.14 L388.65,334.17 L389.51,334.2 L390.36,334.22 L391.21,334.25 L392.06,334.28 L392.92,334.31 L393.77,334.33 L394.62,334.36 L395.48,334.39 L396.33,334.42 L397.18,334.44 L398.03,334.47 L398.89,334.5 L399.74,334.52 L400.59,334.55 L401.44,334.58 L402.3,334.61 L403.15,334.63 L404,334.66 L404.86,334.69 L405.71,334.71 L406.56,334.74 L407.41,334.77 L408.27,334.8 L409.12,334.82 L409.97,334.85 L410.82,334.88 L411.68,334.9 L412.53,334.93 L413.38,334.96 L414.24,334.98 L415.09,335.01 L415.94,335.04 L416.79,335.06 L417.65,335.09 L418.5,335.12 L419.35,335.15 L420.2,335.17 L421.06,335.2 L421.91,335.23 L422.76,335.25 L423.62,335.28 L424.47,335.31 L425.32,335.33 L426.17,335.36 L427.03,335.39 L427.88,335.41 L428.73,335.44 L429.58,335.47 L430.44,335.49 L431.29,335.52 L432.14,335.55 L433,335.57 L433.85,335.6 L434.7,335.63 L435.55,335.65 L436.41,335.68 L437.26,335.71 L438.11,335.73 L438.96,335.76 L439.82,335.79 L440.67,335.81 L441.52,335.84 L442.38,335.86 L443.23,335.89 L444.08,335.92 L444.93,335.94 L445.79,335.97 L446.64,336 L447.49,336.02 L448.34,336.05 L449.2,336.08 L450.05,336.1 L450.9,336.13 L451.76,336.15 L452.61,336.18 L453.46,336.21 L454.31,336.23 L455.17,336.26 L456.02,336.29 L456.87,336.31 L457.72,336.34 L458.58,336.36 L459.43,336.39 L460.28,336.42 L461.14,336.44 L461.99,336.47 L462.84,336.49 L463.69,336.52 L464.55,336.55 L465.4,336.57 L466.25,336.6 L467.1,336.62 L467.96,336.65 L468.81,336.68 L469.66,336.7 L470.52,336.73 L471.37,336.75 L472.22,336.78 L473.07,336.81 L473.93,336.83 L474.78,336.86 L475.63,336.88 L476.48,336.91 L477.34,336.94 L478.19,336.96 L479.04,336.99 L479.9,337.01 L480.75,337.04 L481.6,337.06 L482.45,337.09 L483.31,337.12 L484.16,337.14 L485.01,337.17 L485.86,337.19 L486.72,337.22 L487.57,337.24 L488.42,337.27 L489.28,337.3 L490.13,337.32 L490.98,337.35 L491.83,337.37 L492.69,337.4 L493.54,337.42 L494.39,337.45 L495.24,337.47 L496.1,337.5 L496.95,337.53 L497.8,337.55 L498.66,337.58 L499.51,337.6 L500.36,337.63 L501.21,337.65 L502.07,337.68 L502.92,337.7 L503.77,337.73 L504.62,337.75 L505.48,337.78 L506.33,337.8 L507.18,337.83 L508.04,337.86 L508.89,337.88 L509.74,337.91 L510.59,337.93 L511.45,337.96 L512.3,337.98 L513.15,338.01 L514,338.03 L514.86,338.06 L515.71,338.08 L516.56,338.11 L517.42,338.13 L518.27,338.16 L519.12,338.18 L519.97,338.21 L520.83,338.23 L521.68,338.26 L522.53,338.28 L523.38,338.31 L524.24,338.33 L525.09,338.36 L525.94,338.38 L526.8,338.41 L527.65,338.43 L528.5,338.46 L529.35,338.48 L530.21,338.51 L531.06,338.53 L531.91,338.56 L532.76,338.58 L533.62,338.61 L534.47,338.63 L535.32,338.66 L536.18,338.68 L537.03,338.71 L537.88,338.73 L538.73,338.76 L539.59,338.78 L540.44,338.81 L541.29,338.83 L542.14,338.86 L543,338.88 L543.85,338.91 L544.7,338.93 L545.56,338.95 L546.41,338.98 L547.26,339 L548.11,339.03 L548.97,339.05 L549.82,339.08 L550.67,339.1 L551.52,339.13 L552.38,339.15 L553.23,339.18 L554.08,339.2 L554.94,339.22 L555.79,339.25 L556.64,339.27 L557.49,339.3 L558.35,339.32 L559.2,339.35 L560.05,339.37 L560.9,339.4 L561.76,339.42 L562.61,339.45 L563.46,339.47 L564.32,339.49 L565.17,339.52 L566.02,339.54 L566.87,339.57 L567.73,339.59 L568.58,339.62 L569.43,339.64 L570.28,339.66 L571.14,339.69 L571.99,339.71 L572.84,339.74 L573.7,339.76 L574.55,339.79 L575.4,339.81 L576.25,339.83 L577.11,339.86 L577.96,339.88 L578.81,339.91 L579.66,339.93 L580.52,339.95 L581.37,339.98 L582.22,340 L583.08,340.03 L583.93,340.05 L584.78,340.07 L585.63,340.1 L586.49,340.12 L587.34,340.15 L588.19,340.17 L589.04,340.19 L589.9,340.22 L590.75,340.24 L591.6,340.27 L592.46,340.29 L593.31,340.31 L594.16,340.34 L595.01,340.36 L595.87,340.39 L596.72,340.41 L597.57,340.43 L598.42,340.46 L599.28,340.48 L600.13,340.5 L600.98,340.53 L601.84,340.55 L602.69,340.58 L603.54,340.6 L604.39,340.62 L605.25,340.65 L606.1,340.67 L606.95,340.69 L607.8,340.72 L608.66,340.74 L609.51,340.77 L610.36,340.79 L611.21,340.81 L612.07,340.84 L612.92,340.86 L613.77,340.88 L614.63,340.91 L615.48,340.93 L616.33,340.95 L617.18,340.98 L618.04,341 L618.89,341.03 L619.74,341.05 L620.59,341.07 L621.45,341.1 L622.3,341.12 L623.15,341.14 L624.01,341.17 L624.86,341.19 L625.71,341.21 L626.56,341.24 L627.42,341.26 L628.27,341.28 L629.12,341.31 L629.97,341.33 L630.83,341.35 L631.68,341.38 L632.53,341.4 L633.39,341.42 L634.24,341.45 L635.09,341.47 L635.94,341.49 L636.8,341.52 L637.65,341.54 L638.5,341.56 L639.35,341.59 L640.21,341.61 L641.06,341.63 L641.91,341.65 L642.77,341.68 L643.62,341.7 L644.47,341.72 L645.32,341.75 L646.18,341.77 L647.03,341.79 L647.88,341.82 L648.73,341.84 L649.59,341.86 L650.44,341.89 L651.29,341.91 L652.15,341.93 L653,341.95 L653.85,341.98 L654.7,342 L655.56,342.02 L656.41,342.05 L657.26,342.07 L658.11,342.09 L658.97,342.11 L659.82,342.14 L660.67,342.16 L661.53,342.18 L662.38,342.21 L663.23,342.23 L664.08,342.25 L664.94,342.27 L665.79,342.3 L666.64,342.32 L667.49,342.34 L668.35,342.37 L669.2,342.39 L670.05,342.41 L670.91,342.43 L671.76,342.46 L672.61,342.48 L673.46,342.5 L674.32,342.52 L675.17,342.55 L676.02,342.57 L676.87,342.59 L677.73,342.61 L678.58,342.64 L679.43,342.66 L680.29,342.68 L681.14,342.7 L681.99,342.73 L682.84,342.75 L683.7,342.77 L684.55,342.8 L685.4,342.82 L686.25,342.84 L687.11,342.86 L687.96,342.88 L688.81,342.91 L689.67,342.93 L690.52,342.95 L691.37,342.97 L692.22,343 L693.08,343.02 L693.93,343.04 L694.78,343.06 L695.63,343.09 L696.49,343.11 L697.34,343.13 L698.19,343.15 L699.05,343.18 L699.9,343.2 L700.75,343.22 L701.6,343.24 L702.46,343.26 L703.31,343.29 L704.16,343.31 L705.01,343.33 L705.87,343.35 L706.72,343.38 L707.57,343.4 L708.43,343.42 L709.28,343.44 L710.13,343.46 L710.98,343.49 L711.84,343.51 L712.69,343.53 L713.54,343.55 L714.39,343.57 L715.25,343.6 L716.1,343.62 L716.95,343.64 L717.81,343.66 L718.66,343.68 L719.51,343.71 L720.36,343.73 L721.22,343.75 L722.07,343.77 L722.92,343.79 L723.77,343.82 L724.63,343.84 L725.48,343.86 L726.33,343.88 L727.19,343.9 L728.04,343.93 L728.89,343.95 L729.74,343.97 L730.6,343.99 L731.45,344.01 L732.3,344.03 L733.15,344.06 L734.01,344.08 L734.86,344.1 L735.71,344.12 L736.57,344.14 L737.42,344.17 L738.27,344.19 L739.12,344.21 L739.98,344.23 L740.83,344.25 L741.68,344.27 L742.53,344.3 L743.39,344.32 L744.24,344.34 L745.09,344.36 L745.95,344.38 L746.8,344.4 L747.65,344.42 L748.5,344.45 L749.36,344.47 L750.21,344.49 L751.06,344.51 L751.91,344.53 L752.77,344.55 L753.62,344.58 L754.47,344.6 L755.33,344.62 L756.18,344.64 L757.03,344.66 L757.88,344.68 L758.74,344.7 L759.59,344.73 L760.44,344.75 L761.29,344.77 L762.15,344.79 L763,344.81 L763.85,344.83 L764.71,344.85 L765.56,344.87 L766.41,344.9 L767.26,344.92 L768.12,344.94 L768.97,344.96 L769.82,344.98 L770.67,345 L771.53,345.02 L772.38,345.04" stroke-width="2.0"/>
</g>
<g fill="none" stroke="#000">
<path d="M89.95,0 V382.45 H772.6" stroke-width="1.5"/>
<path d="M89.2,0.1 H773.3" stroke-width="2"/>
<path d="M772.6,0 V383.1" stroke-width="1.7"/>
<path d="M149.3,382.4 v-7.3 M208.6,382.4 v-7.3 M267.9,382.4 v-7.3 M327.2,382.4 v-7.3 M386.5,382.4 v-7.3 M445.8,382.4 v-7.3 M505.1,382.4 v-7.3 M564.4,382.4 v-7.3 M623.7,382.4 v-7.3 M683,382.4 v-7.3 M742.3,382.4 v-7.3 M90,324.32 h7.3 M90,265.34 h7.3 M90,206.36 h7.3 M90,147.38 h7.3 M90,88.4 h7.3 M90,29.42 h7.3" stroke-width="1.2"/>
</g>
<path d="M96.13,44.5 V82.3 M92.33,44.5 h7.6 M92.33,82.3 h7.6 M108,63.4 V115.8 M104.2,63.4 h7.6 M104.2,115.8 h7.6 M131.72,91.1 V115.1 M127.92,91.1 h7.6 M127.92,115.1 h7.6 M173.25,134 V169.2 M169.45,134 h7.6 M169.45,169.2 h7.6 M256.3,70.7 V179.3 M252.5,70.7 h7.6 M252.5,179.3 h7.6 M422.39,42.15 V276.65 M418.59,42.15 h7.6 M418.59,276.65 h7.6 M754.58,310.7 V330.7 M750.78,310.7 h7.6 M750.78,330.7 h7.6 M96.13,80.1 V112.5 M92.33,80.1 h7.6 M92.33,112.5 h7.6 M108,88.6 V144.2 M104.2,88.6 h7.6 M104.2,144.2 h7.6 M131.72,102 V114 M127.92,102 h7.6 M127.92,114 h7.6 M173.25,135.1 V173.1 M169.45,135.1 h7.6 M169.45,173.1 h7.6 M256.3,60.9 V174.7 M252.5,60.9 h7.6 M252.5,174.7 h7.6 M422.39,91.1 V214.5 M418.59,91.1 h7.6 M418.59,214.5 h7.6 M754.58,263 V278 M750.78,263 h7.6 M750.78,278 h7.6 M96.13,148.8 V173 M92.33,148.8 h7.6 M92.33,173 h7.6 M108,251.3 V270.3 M104.2,251.3 h7.6 M104.2,270.3 h7.6 M422.39,366 V382.6 M418.59,366 h7.6 M418.59,382.6 h7.6 M96.13,107.1 V137.7 M92.33,107.1 h7.6 M92.33,137.7 h7.6 M108,185.4 V221.8 M104.2,185.4 h7.6 M104.2,221.8 h7.6 M131.72,281.8 V294 M127.92,281.8 h7.6 M127.92,294 h7.6 M173.25,320.5 V333.5 M169.45,320.5 h7.6 M169.45,333.5 h7.6 M256.3,292.15 V321.05 M252.5,292.15 h7.6 M252.5,321.05 h7.6 M422.39,309.5 V336.9 M418.59,309.5 h7.6 M418.59,336.9 h7.6" fill="none" stroke="#000" stroke-width="1.4"/>
<g fill="#000">
<circle cx="90.2" cy="88.3" r="6"/>
<circle cx="96.13" cy="63.4" r="6"/>
<circle cx="108" cy="89.6" r="6"/>
<circle cx="131.72" cy="103.1" r="6"/>
<circle cx="173.25" cy="151.6" r="6"/>
<circle cx="256.3" cy="125" r="6"/>
<circle cx="422.39" cy="159.4" r="6"/>
<circle cx="754.58" cy="320.7" r="6"/>
<rect x="84.2" y="82.6" width="12" height="12"/>
<rect x="90.13" y="90.3" width="12" height="12"/>
<rect x="102" y="110.4" width="12" height="12"/>
<rect x="125.72" y="102" width="12" height="12"/>
<rect x="167.25" y="148.1" width="12" height="12"/>
<rect x="250.3" y="111.8" width="12" height="12"/>
<rect x="416.39" y="146.8" width="12" height="12"/>
<rect x="748.58" y="264.5" width="12" height="12"/>
<path d="M90.2,82.1 L96.1,92.3 L84.3,92.3 Z"/>
<path d="M96.13,154.7 L102.03,164.9 L90.23,164.9 Z"/>
<path d="M108,254.6 L113.9,264.8 L102.1,264.8 Z"/>
<path d="M131.72,367.4 L137.62,377.6 L125.82,377.6 Z"/>
<path d="M173.25,375.3 L179.15,385.5 L167.35,385.5 Z"/>
<path d="M256.3,373.3 L262.2,383.5 L250.4,383.5 Z"/>
<path d="M422.39,368.1 L428.29,378.3 L416.49,378.3 Z"/>
<path d="M754.58,375.3 L760.48,385.5 L748.68,385.5 Z"/>
<path d="M90.2,82.6 L95.9,88.3 L90.2,94 L84.5,88.3 Z"/>
<path d="M96.13,116.7 L101.83,122.4 L96.13,128.1 L90.43,122.4 Z"/>
<path d="M108,197.9 L113.7,203.6 L108,209.3 L102.3,203.6 Z"/>
<path d="M131.72,282.2 L137.42,287.9 L131.72,293.6 L126.02,287.9 Z"/>
<path d="M173.25,321.3 L178.95,327 L173.25,332.7 L167.55,327 Z"/>
<path d="M256.3,300.9 L262,306.6 L256.3,312.3 L250.6,306.6 Z"/>
<path d="M422.39,317.5 L428.09,323.2 L422.39,328.9 L416.69,323.2 Z"/>
<path d="M754.58,338.5 L760.28,344.2 L754.58,349.9 L748.88,344.2 Z"/>
</g>
<path d="M540,22.9 H599.5 M540,19.2 v7.4 M599.5,19.2 v7.4 M540,50.4 H599.5 M540,46.7 v7.4 M599.5,46.7 v7.4 M540,78.2 H599.5 M540,74.5 v7.4 M599.5,74.5 v7.4 M540,106.1 H599.5 M540,102.4 v7.4 M599.5,102.4 v7.4" fill="none" stroke="#000" stroke-width="1.4"/>
<g fill="#000">
<circle cx="569.2" cy="22.9" r="6"/>
<rect x="563.2" y="44.4" width="12" height="12"/>
<path d="M569.2,72.4 L575.1,82.6 L563.3,82.6 Z"/>
<path d="M569.2,100.4 L574.9,106.1 L569.2,111.8 L563.5,106.1 Z"/>
</g>
<g fill="none" stroke="#000" stroke-width="2">
<path d="M629.9,21.9 H687.9" stroke-dasharray="14.9 7.9 3.4 7.9"/>
<path d="M629.7,49.7 H687.9" stroke-width="2.1" stroke-dasharray="2 7.46"/>
<path d="M630,77.4 H687.9" stroke-dasharray="8.9 15.5"/>
<path d="M630,105 H687.8"/>
</g>
<g font-size="24.5" text-anchor="end">
<text x="764.5" y="32">SDZ</text>
<text x="764.5" y="60">SMZ</text>
<text x="764.5" y="88">SMX</text>
<text x="764.5" y="115">TMP</text>
</g>
<g font-size="27.5" text-anchor="middle">
<text x="93.4" y="412.7">0</text>
<text x="152.7" y="412.7">10</text>
<text x="212" y="412.7">20</text>
<text x="271.3" y="412.7">30</text>
<text x="330.6" y="412.7">40</text>
<text x="389.9" y="412.7">50</text>
<text x="449.2" y="412.7">60</text>
<text x="508.5" y="412.7">70</text>
<text x="567.8" y="412.7">80</text>
<text x="627.1" y="412.7">90</text>
<text x="686.4" y="412.7">100</text>
<text x="745.7" y="412.7">110</text>
</g>
<g font-size="27.5" text-anchor="end">
<text x="80.7" y="393">0</text>
<text x="80.7" y="334">20</text>
<text x="80.7" y="275">40</text>
<text x="80.7" y="216">60</text>
<text x="80.7" y="157">80</text>
<text x="80.7" y="99">100</text>
<text x="80.7" y="40">120</text>
</g>
<text class="ax" x="430.55" y="454" font-size="28.75" text-anchor="middle">Days after application</text>
<text class="ax" transform="translate(22.8,192.4) rotate(-90)" font-size="28.95" text-anchor="middle">Antibiotic concentration [%]</text>
</svg></body></html>
